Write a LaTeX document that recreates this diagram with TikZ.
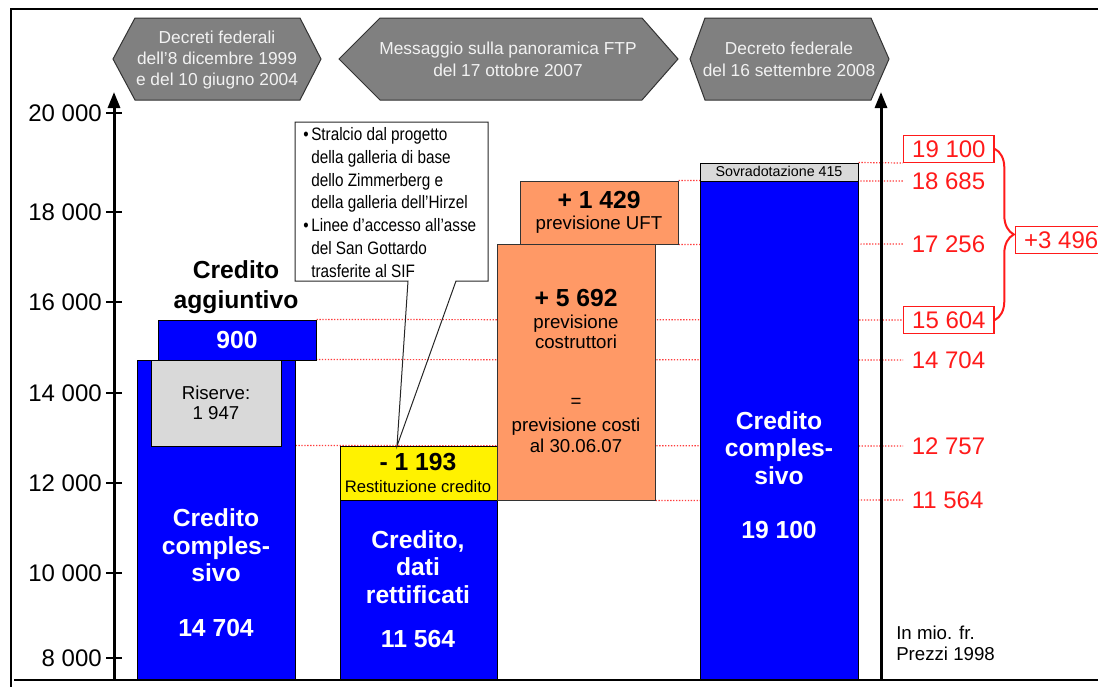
\documentclass[tikz,border=0pt]{standalone}
\usepackage{fontspec}
\setmainfont{Liberation Sans}
\newfontfamily\narrowfont[FakeStretch=0.85]{Liberation Sans}
\usetikzlibrary{arrows.meta, backgrounds, decorations.pathreplacing, fit, positioning}
\definecolor{barblue}{HTML}{0000FF}
\definecolor{estorange}{HTML}{FF9966}
\definecolor{boxgray}{HTML}{D9D9D9}
\definecolor{bannergray}{HTML}{808080}
\definecolor{bannertext}{HTML}{F2F2F2}
\definecolor{valred}{HTML}{FF1A1A}
\tikzstyle{bar}=[draw=black, fill=barblue, line width=0.75pt, inner sep=0pt]
\tikzstyle{graybox}=[draw=black, fill=boxgray, line width=0.75pt, inner sep=0pt]
\tikzstyle{refund}=[draw=black, fill=yellow, line width=0.75pt, inner sep=0pt]
\tikzstyle{estimate}=[draw=black!80, fill=estorange, line width=0.75pt, inner sep=0pt]
\tikzstyle{banner}=[draw=black!80, fill=bannergray, line width=0.75pt]
\tikzstyle{bannertxt}=[text=bannertext, align=center, inner sep=0pt, font=\fontsize{13}{15.5}\selectfont]
\tikzstyle{bartxt}=[text=white, align=center, inner sep=0pt, font=\fontsize{18.5}{20.6}\selectfont\bfseries]
\tikzstyle{bigtxt}=[align=center, inner sep=0pt, font=\fontsize{18.5}{22.5}\selectfont\bfseries]
\tikzstyle{smalltxt}=[align=center, inner sep=0pt, font=\fontsize{14}{15}\selectfont]
\tikzstyle{guide}=[draw=valred!85, line width=0.9pt, dash pattern=on 1pt off 1.2pt]
\tikzstyle{val}=[text=valred, anchor=west, inner xsep=6.4pt, inner ysep=3.7pt, font=\fontsize{18}{20}\selectfont]
\tikzstyle{valbox}=[val, draw=valred, line width=1pt]
\tikzstyle{axis}=[line width=2.25pt, -{Triangle[length=12pt, width=9pt]}]
\tikzstyle{ticklab}=[anchor=east, inner sep=0pt, font=\fontsize{18}{20}\selectfont]
\newcommand{\bul}{\makebox[6pt][l]{\textbullet}}
\newcommand{\cont}{\hspace*{6pt}}

\begin{document}
\begin{tikzpicture}[x=0.75pt, y=-0.75pt]
    \useasboundingbox (0,0) rectangle (1098,686);
    \draw[line width=1.5pt] (11,690) -- (11,9) -- (1100,9);

    % banners on top
    \draw[banner] (113,59) -- (135,18) -- (300,18) -- (321,59) -- (300,100) -- (135,100) -- cycle;
    \draw[banner] (339,59) -- (380,18) -- (642,18) -- (678,59) -- (642,100) -- (380,100) -- cycle;
    \draw[banner] (690,59) -- (705,18) -- (871,18) -- (889,59) -- (871,100) -- (705,100) -- cycle;
    \node[bannertxt] (dec1) at (217,60) {Decreti federali\\dell’8 dicembre 1999\\e del 10 giugno 2004};
    \node[bannertxt, font=\fontsize{13}{16.5}\selectfont] (msg) at (508,59) {Messaggio sulla panoramica FTP\\del 17 ottobre 2007};
    \node[bannertxt, font=\fontsize{13}{16.5}\selectfont] (dec2) at (789,59) {Decreto federale\\del 16 settembre 2008};

    % axes
    \draw[axis] (114,680) -- (114,92);
    \draw[axis] (881,680) -- (881,92);
    \foreach \yy/\lab in {113/20 000, 212/18 000, 302/16 000, 393/14 000, 483/12 000, 573/10 000, 658/8 000} {
        \draw[line width=1.5pt] (106,\yy) -- (122,\yy);
        \node[ticklab] (tick\yy) at (102,\yy) {\lab};
    }

    % bars
    \node[bar, fit={(137,360) (295,680)}] (barA) {};
    \node[graybox, fit={(151,360) (281,446)}] (res) {};
    \node[bar, fit={(158,320) (316,360)}] (add900) {};
    \node[bar, fit={(340,500) (497,680)}] (barB) {};
    \node[refund, fit={(340,446) (497,500)}] (cut) {};
    \node[estimate, fit={(497,244) (655,500)}] (est5692) {};
    \node[estimate, fit={(520,181) (678,244)}] (est1429) {};
    \node[bar, fit={(700,181) (858,680)}] (barC) {};
    \node[graybox, fit={(700,163) (858,181)}] (extra) {};

    \node[bigtxt] (addtxt) at (236,287) {Credito\\aggiuntivo};
    \node[bartxt] (txt900) at (237,340) {900};
    \node[smalltxt] (restxt) at (216,403) {Riserve:\\1 947};
    \node[bartxt] (txtA) at (216,573) {Credito\\comples-\\sivo\\[20.6pt]14 704};
    \node[bartxt] (txtB) at (418,589) {Credito,\\dati\\rettificati\\[12.4pt]11 564};
    \node[bartxt] (txtC) at (779,475) {Credito\\comples-\\sivo\\[20pt]19 100};
    \node[bigtxt] (cuthead) at (418,462) {- 1 193};
    \node[smalltxt, font=\fontsize{12.5}{15}\selectfont] (cuttxt) at (418,487) {Restituzione credito};
    \node[bigtxt] (head5692) at (576,298) {+ 5 692};
    \node[smalltxt] (txt5692) at (576,332) {previsione\\costruttori};
    \node[smalltxt] (eq) at (576,403) {=};
    \node[smalltxt, font=\fontsize{14}{15.75}\selectfont] (cost) at (576,435) {previsione costi\\al 30.06.07};
    \node[bigtxt] (head1429) at (599,200) {+ 1 429};
    \node[smalltxt] (txt1429) at (599,225) {previsione UFT};
    \node[smalltxt, font=\fontsize{10.7}{12}\selectfont] (extratxt) at (779,171) {Sovradotazione 415};

    % callout
    \coordinate (tip) at (397,446);
    \node[anchor=west, align=left, inner sep=0pt, font=\narrowfont\fontsize{13.5}{17.1}\selectfont] (note) at (303,202.5)
        {\bul Stralcio dal progetto\\ \cont della galleria di base\\ \cont dello Zimmerberg e\\ \cont della galleria dell’Hirzel\\
         \bul Linee d’accesso all’asse\\ \cont del San Gottardo\\ \cont trasferite al SIF};
    \draw[line width=0.75pt, draw=black!85] (295,122) -- (488,122) -- (488,281) -- (456,281) -- (tip)
        -- (408,281) -- (295,281) -- cycle;

    % values on the right
    \node[valbox, anchor=south west] (n19100) at (903,163) {19 100};
    \node[val] (n18685) at (903,181) {18 685};
    \node[val] (n17256) at (903,244) {17 256};
    \node[valbox] (n15604) at (903,320) {15 604};
    \node[val] (n14704) at (903,360) {14 704};
    \node[val] (n12757) at (903,446) {12 757};
    \node[val] (n11564) at (903,500) {11 564};
    \draw[valred, line width=1.5pt, decorate, decoration={brace, amplitude=14.25pt}] (n19100.east) -- (n15604.east);
    \node[valbox] (diff) at (1015,240) {+3 496};

    \begin{scope}[on background layer]
        \draw[guide] (extra.north east) -- (n19100.south west);
        \draw[guide] (est1429.north east) -- (n18685.west);
        \draw[guide] (est1429.south east) -- (n17256.west);
        \draw[guide] (add900.north east) -- (n15604.west);
        \draw[guide] (barA.north east) -- (n14704.west);
        \draw[guide] (barA.east |- cut.north) -- (n12757.west);
        \draw[guide] (est5692.south east) -- (n11564.west);
    \end{scope}

    \node[anchor=west, align=left, inner sep=0pt, font=\fontsize{14}{15.75}\selectfont] (unit) at (896,643.5) {In mio. fr.\\Prezzi 1998};
    \draw[line width=1.5pt] (14,680) -- (1100,680);
\end{tikzpicture}
\end{document}
